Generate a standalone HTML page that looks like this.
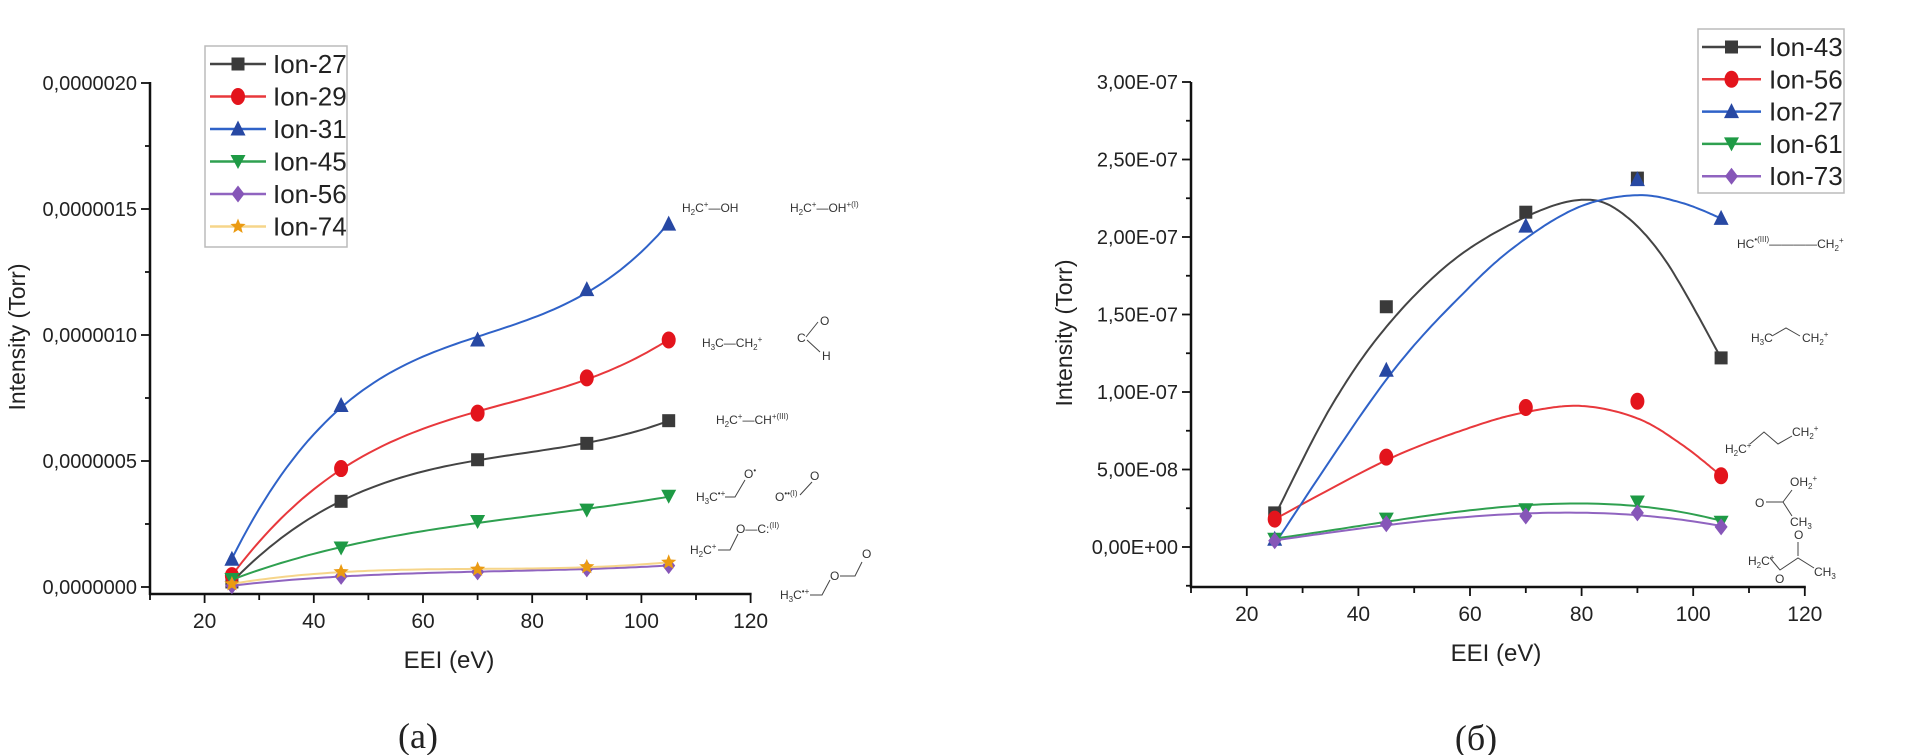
<!DOCTYPE html>
<html><head><meta charset="utf-8">
<style>
html,body{margin:0;padding:0;background:#fff;}
svg{display:block;}
text{font-family:"Liberation Sans",sans-serif;fill:#222;}
.ch{font-size:12px;fill:#333;}
</style></head>
<body>
<svg id="s" width="1913" height="755" xmlns="http://www.w3.org/2000/svg">
<g id="g"></g>
<text x="19" y="337" font-size="23" text-anchor="middle" transform="rotate(-90 19 337)" dominant-baseline="middle">Intensity (Torr)</text>
<text x="449" y="668" font-size="24" text-anchor="middle">EEI (eV)</text>
<text x="418" y="748" font-size="36" text-anchor="middle" style="font-family:'Liberation Serif',serif">(a)</text>
<text x="1066" y="333" font-size="23" text-anchor="middle" transform="rotate(-90 1066 333)" dominant-baseline="middle">Intensity (Torr)</text>
<text x="1496" y="661" font-size="24" text-anchor="middle">EEI (eV)</text>
<text x="1476" y="750" font-size="36" text-anchor="middle" style="font-family:'Liberation Serif',serif">(б)</text>
<g class="ch">
<text x="682" y="212" class="ch">H<tspan font-size="8" dy="3">2</tspan><tspan dy="-3">C</tspan><tspan font-size="8" dy="-5">+</tspan><tspan dy="5">—OH</tspan></text>
<text x="790" y="212" class="ch">H<tspan font-size="8" dy="3">2</tspan><tspan dy="-3">C</tspan><tspan font-size="8" dy="-5">+</tspan><tspan dy="5">—OH</tspan><tspan font-size="8" dy="-5">+(I)</tspan></text>
<text x="702" y="347" class="ch">H<tspan font-size="8" dy="3">3</tspan><tspan dy="-3">C—CH</tspan><tspan font-size="8" dy="3">2</tspan><tspan font-size="8" dy="-8">+</tspan></text>
<text x="820" y="325" class="ch">O</text><text x="797" y="342" class="ch">C</text><text x="822" y="360" class="ch">H</text>
<line x1="806" y1="337" x2="818" y2="322" stroke="#444" stroke-width="1"/><line x1="807" y1="340" x2="820" y2="352" stroke="#444" stroke-width="1"/>
<text x="716" y="424" class="ch">H<tspan font-size="8" dy="3">2</tspan><tspan dy="-3">C</tspan><tspan font-size="8" dy="-5">+</tspan><tspan dy="5">—CH</tspan><tspan font-size="8" dy="-5">+(III)</tspan></text>
<text x="696" y="501" class="ch">H<tspan font-size="8" dy="3">3</tspan><tspan dy="-3">C</tspan><tspan font-size="8" dy="-5">•+</tspan></text>
<polyline points="725,497 735,497 745,480" fill="none" stroke="#444"/>
<text x="744" y="478" class="ch">O<tspan font-size="8" dy="-5">•</tspan></text>
<text x="775" y="501" class="ch">O<tspan font-size="8" dy="-5">••(I)</tspan></text>
<line x1="800" y1="495" x2="812" y2="482" stroke="#444"/>
<text x="810" y="480" class="ch">O</text>
<text x="690" y="554" class="ch">H<tspan font-size="8" dy="3">2</tspan><tspan dy="-3">C</tspan><tspan font-size="8" dy="-5">+</tspan></text>
<polyline points="718,550 730,550 738,534" fill="none" stroke="#444"/>
<text x="736" y="533" class="ch">O—C:<tspan font-size="8" dy="-5">(II)</tspan></text>
<text x="780" y="599" class="ch">H<tspan font-size="8" dy="3">3</tspan><tspan dy="-3">C</tspan><tspan font-size="8" dy="-5">•+</tspan></text>
<polyline points="810,595 822,595 830,580" fill="none" stroke="#444"/>
<text x="830" y="580" class="ch">O</text>
<polyline points="840,576 855,576 862,562" fill="none" stroke="#444"/>
<text x="862" y="558" class="ch">O</text>
</g>
<g>
<text x="1737" y="248" class="ch">HC<tspan font-size="8" dy="-6">•(III)</tspan><tspan dy="6">————CH</tspan><tspan font-size="8" dy="3">2</tspan><tspan font-size="8" dy="-8">+</tspan></text>
<text x="1751" y="342" class="ch" font-size="13">H<tspan font-size="8" dy="3">3</tspan><tspan dy="-3">C</tspan></text>
<polyline points="1772,336 1786,328 1800,336" fill="none" stroke="#444"/>
<text x="1802" y="342" class="ch">CH<tspan font-size="8" dy="3">2</tspan><tspan font-size="8" dy="-8">+</tspan></text>
<text x="1725" y="453" class="ch">H<tspan font-size="8" dy="3">2</tspan><tspan dy="-3">C</tspan><tspan font-size="8" dy="-5">+</tspan></text>
<polyline points="1750,444 1764,432 1778,444 1792,436" fill="none" stroke="#444"/>
<text x="1792" y="436" class="ch">CH<tspan font-size="8" dy="3">2</tspan><tspan font-size="8" dy="-8">+</tspan></text>
<text x="1790" y="486" class="ch">OH<tspan font-size="8" dy="3">2</tspan><tspan font-size="8" dy="-8">+</tspan></text>
<text x="1755" y="507" class="ch">O</text>
<line x1="1766" y1="502" x2="1783" y2="502" stroke="#444"/>
<polyline points="1792,490 1783,502 1792,516" fill="none" stroke="#444"/>
<text x="1790" y="526" class="ch">CH<tspan font-size="8" dy="3">3</tspan></text>
<text x="1748" y="565" class="ch">H<tspan font-size="8" dy="3">2</tspan><tspan dy="-3">C</tspan><tspan font-size="8" dy="-5">+</tspan></text>
<polyline points="1770,558 1780,570 1798,558 1814,568" fill="none" stroke="#444"/>
<line x1="1798" y1="556" x2="1798" y2="542" stroke="#444"/>
<text x="1794" y="539" class="ch">O</text>
<text x="1775" y="583" class="ch">O</text>
<text x="1814" y="576" class="ch">CH<tspan font-size="8" dy="3">3</tspan></text>
</g>
</svg>
<script>
var NS="http://www.w3.org/2000/svg",G=document.getElementById("g");
function el(t,a){var e=document.createElementNS(NS,t);for(var k in a)e.setAttribute(k,a[k]);G.appendChild(e);return e;}
function txt(x,y,s,fs,anchor){var e=el("text",{x:x,y:y,"font-size":fs,"text-anchor":anchor||"start"});e.textContent=s;return e;}
function fit(xs,ys,d){var n=d+1,A=[],b=[];for(var i=0;i<n;i++){A.push([]);b.push(0);for(var j=0;j<n;j++){var s=0;for(var k=0;k<xs.length;k++)s+=Math.pow(xs[k],i+j);A[i].push(s);}for(var k=0;k<xs.length;k++)b[i]+=ys[k]*Math.pow(xs[k],i);}
for(var i=0;i<n;i++){var p=i;for(var r=i+1;r<n;r++)if(Math.abs(A[r][i])>Math.abs(A[p][i]))p=r;var t=A[i];A[i]=A[p];A[p]=t;t=b[i];b[i]=b[p];b[p]=t;for(var r=0;r<n;r++){if(r==i)continue;var f=A[r][i]/A[i][i];for(var c=i;c<n;c++)A[r][c]-=f*A[i][c];b[r]-=f*b[i];}}
var co=[];for(var i=0;i<n;i++)co.push(b[i]/A[i][i]);return function(x){var s=0;for(var i=0;i<n;i++)s+=co[i]*Math.pow(x,i);return s;};}
function catmull(pts){var out=[];for(var i=0;i<pts.length-1;i++){var p0=pts[Math.max(0,i-1)],p1=pts[i],p2=pts[i+1],p3=pts[Math.min(pts.length-1,i+2)];for(var t=0;t<1;t+=0.05){var t2=t*t,t3=t2*t;var f=function(a,b,c,d){return 0.5*((2*b)+(-a+c)*t+(2*a-5*b+4*c-d)*t2+(-a+3*b-3*c+d)*t3);};out.push([f(p0[0],p1[0],p2[0],p3[0]),f(p0[1],p1[1],p2[1],p3[1])]);}}out.push(pts[pts.length-1]);return out;}
function marker(type,x,y,c){var s=6.5;
 if(type=="sq")el("rect",{x:x-s,y:y-s,width:2*s,height:2*s,fill:c});
 else if(type=="ci")el("ellipse",{cx:x,cy:y,rx:s+0.5,ry:s+2,fill:c});
 else if(type=="tu")el("polygon",{points:(x)+","+(y-s-2)+" "+(x-s-1)+","+(y+s)+" "+(x+s+1)+","+(y+s),fill:c});
 else if(type=="td")el("polygon",{points:(x)+","+(y+s+1)+" "+(x-s-1)+","+(y-s)+" "+(x+s+1)+","+(y-s),fill:c});
 else if(type=="di")el("polygon",{points:x+","+(y-s-2)+" "+(x+s)+","+y+" "+x+","+(y+s+2)+" "+(x-s)+","+y,fill:c});
 else if(type=="st"){var p=[];for(var i=0;i<10;i++){var r=i%2?3.5:8,a=-Math.PI/2+i*Math.PI/5;p.push((x+r*Math.cos(a))+","+(y+r*Math.sin(a)));}el("polygon",{points:p.join(" "),fill:c});}
}
function plot(o){
 var X=function(v){return o.x0+(v-10)*o.px10/10;},Y=function(v){return o.y0-v*o.pyu;};
 el("line",{x1:o.x0,y1:o.ytop,x2:o.x0,y2:o.axy+1,stroke:"#111","stroke-width":2.5});
 el("line",{x1:o.x0-1,y1:o.axy,x2:X(120)+1,y2:o.axy,stroke:"#111","stroke-width":2.5});
 for(var v=10;v<=120;v+=10){var maj=(v%20==0);el("line",{x1:X(v),y1:o.axy,x2:X(v),y2:o.axy+(maj?9:6),stroke:"#111","stroke-width":1.8});if(maj)txt(X(v),o.axy+34,""+v,21,"middle");}
 for(var i=0;i<o.yt.length;i++){var yy=Y(o.yt[i][0]);el("line",{x1:o.x0-9,y1:yy,x2:o.x0,y2:yy,stroke:"#111","stroke-width":1.8});txt(o.x0-13,yy+7,o.yt[i][1],20,"end");}
 for(var i=0;i<o.ym.length;i++){var yy=Y(o.ym[i]);el("line",{x1:o.x0-5,y1:yy,x2:o.x0,y2:yy,stroke:"#111","stroke-width":1.8});}
 var xs=[25,45,70,90,105];
 o.series.forEach(function(s){
  var p=[];
  if(s.k){catmull(s.k).forEach(function(q){p.push(X(q[0]).toFixed(1)+","+Y(q[1]).toFixed(1));});}
  else{var f=fit(xs,s.d,s.deg||3);for(var x=25;x<=105.01;x+=1)p.push(X(x).toFixed(1)+","+Y(f(x)).toFixed(1));}
  el("polyline",{points:p.join(" "),fill:"none",stroke:s.lc,"stroke-width":2});
  xs.forEach(function(x,i){marker(s.m,X(x),Y(s.d[i]),s.c);});
 });
 var L=o.leg;el("rect",{x:L.x,y:L.y,width:L.w,height:L.h,fill:"#fff",stroke:"#bbb","stroke-width":1.5});
 o.series.forEach(function(s,i){var yy=L.r0+i*L.dy;el("line",{x1:L.lx1,y1:yy,x2:L.lx2,y2:yy,stroke:s.lc,"stroke-width":2.5});marker(s.m,(L.lx1+L.lx2)/2,yy,s.c);txt(L.tx,yy+9,s.n,26);});
}
plot({x0:150,px10:54.6,y0:587,pyu:25.2,axy:594,ytop:82,
 yt:[[0,"0,0000000"],[5,"0,0000005"],[10,"0,0000010"],[15,"0,0000015"],[20,"0,0000020"]],
 ym:[2.5,7.5,12.5,17.5],
 leg:{x:205,y:46,w:142,h:201,r0:64,dy:32.5,lx1:210,lx2:266,tx:273},
 series:[
 {n:"Ion-27",m:"sq",c:"#3a3a3a",lc:"#444",d:[0.2,3.4,5.05,5.7,6.6]},
 {n:"Ion-29",m:"ci",c:"#e3141c",lc:"#e8383c",d:[0.45,4.7,6.9,8.3,9.8]},
 {n:"Ion-31",m:"tu",c:"#2748a3",lc:"#2f62c8",d:[1.1,7.2,9.8,11.8,14.4]},
 {n:"Ion-45",m:"td",c:"#1e9a45",lc:"#2fa050",d:[0.3,1.55,2.6,3.05,3.6]},
 {n:"Ion-56",m:"di",c:"#8656b8",lc:"#9064c0",d:[0.05,0.42,0.6,0.72,0.85]},
 {n:"Ion-74",m:"st",c:"#eb9b12",lc:"#f6d58a",d:[0.12,0.6,0.7,0.8,0.98]}]});
plot({x0:1191,px10:55.8,y0:547,pyu:15.5,axy:587,ytop:82,
 yt:[[0,"0,00E+00"],[5,"5,00E-08"],[10,"1,00E-07"],[15,"1,50E-07"],[20,"2,00E-07"],[25,"2,50E-07"],[30,"3,00E-07"]],
 ym:[-2.5,2.5,7.5,12.5,17.5,22.5,27.5],
 leg:{x:1698,y:29,w:146,h:164,r0:47,dy:32.3,lx1:1702,lx2:1761,tx:1769},
 series:[
 {n:"Ion-43",m:"sq",c:"#3a3a3a",lc:"#444",d:[2.2,15.5,21.6,23.8,12.2],k:[[25,2],[35,9],[45,14.2],[57,18.5],[70,21.3],[80,22.4],[87,21.6],[95,18.5],[105,12.2]]},
 {n:"Ion-56",m:"ci",c:"#e3141c",lc:"#e8383c",d:[1.8,5.8,9.0,9.4,4.6],k:[[25,1.8],[45,5.6],[60,7.7],[70,8.7],[80,9.1],[90,8.3],[98,6.6],[105,4.6]]},
 {n:"Ion-27",m:"tu",c:"#2748a3",lc:"#2f62c8",d:[0.5,11.4,20.7,23.7,21.2],k:[[25,0.2],[45,10.8],[60,16.8],[70,19.9],[80,22],[90,22.7],[98,22.2],[105,21.2]]},
 {n:"Ion-61",m:"td",c:"#1e9a45",lc:"#2fa050",d:[0.5,1.8,2.4,2.9,1.6]},
 {n:"Ion-73",m:"di",c:"#8656b8",lc:"#9064c0",d:[0.4,1.5,2.0,2.2,1.3]}]});
</script>
</body></html>
